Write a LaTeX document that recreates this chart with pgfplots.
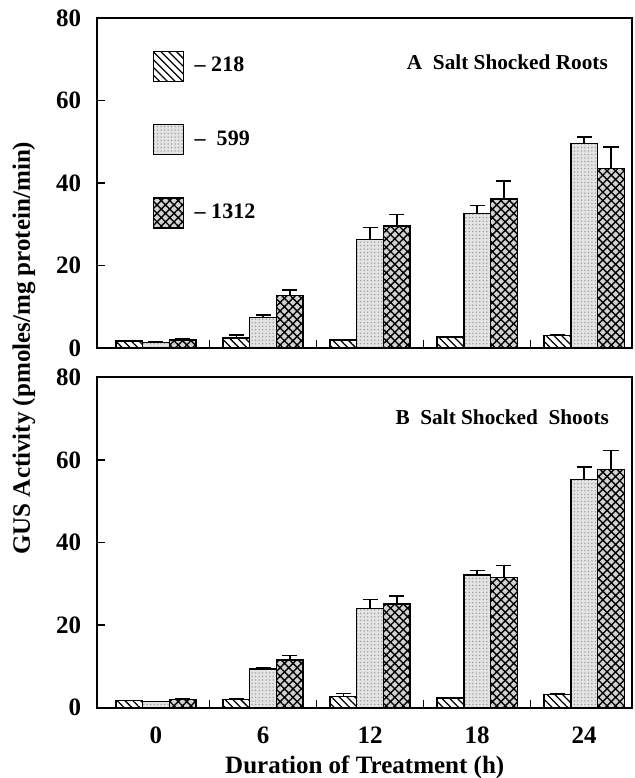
\documentclass[border=0pt]{standalone}
\usepackage{fontspec}
\setmainfont{Liberation Serif}
\usepackage{pgfplots}
\pgfplotsset{compat=1.18}
\usetikzlibrary{patterns,patterns.meta}

\pgfplotsset{
  gus/.style={
    scale only axis, width=214pt, height=132pt,
    ybar=0pt, bar width=0.25,
    xmin=-0.55, xmax=4.45, ymin=0, ymax=80,
    ytick={0,20,...,80},
    xtick={0,...,4},
    minor xtick={0.5,1.5,2.5,3.5},
    major x tick style={draw=none},
    major tick length=3.2pt, minor tick length=3.2pt,
    tick align=inside, tick pos=left,
    axis line style={line width=0.8pt},
    tick style={line width=0.6pt, black},
    font=\bfseries,
    tick label style={font=\bfseries},
    yticklabel style={xshift=-2.8pt},
    xticklabel style={yshift=-4pt},
    xlabel style={yshift=2pt},
    /pgf/number format/assume math mode=true,
    error bars/y dir=plus, error bars/y explicit,
    error bars/error mark options={rotate=90, mark size=3pt, line width=0.6pt},
    error bars/error bar style={line width=0.6pt},
    legend image code/.code={\draw[#1] (0pt,-6pt) rectangle (12pt,6pt);},
  },
  s218/.style={draw=black, line width=0.6pt, fill=white,
    postaction={pattern={Lines[angle=-45,distance=2.2pt,line width=0.5pt]}}},
  s599/.style={draw=black, line width=0.6pt, fill=gray!22,
    postaction={pattern={Dots[distance=1.4pt,radius=0.3pt]}, pattern color=gray!80}},
  s1312/.style={draw=black, line width=0.6pt, fill=gray!35,
    postaction={pattern={Hatch[angle=45,distance=2.4pt,line width=0.55pt]}}},
}

\begin{document}
\begin{tikzpicture}
% panel A
\begin{axis}[gus, name=A, xticklabels={},
  legend cell align=left,
  legend style={draw=none, fill=none, at={(0.089,0.918)}, anchor=north west,
    row sep=16.7pt, font=\fontsize{8.8}{9.5}\selectfont\bfseries},
]
\addplot[s218] coordinates {(0,1.7) +- (0,0.1) (1,2.5) +- (0,0.7) (2,2.0) +- (0,0.1) (3,2.7) +- (0,0.2) (4,3.1) +- (0,0.2)};
\addplot[s599] coordinates {(0,1.4) +- (0,0.1) (1,7.4) +- (0,0.7) (2,26.3) +- (0,2.9) (3,32.6) +- (0,2.0) (4,49.6) +- (0,1.6)};
\addplot[s1312] coordinates {(0,2.0) +- (0,0.2) (1,12.8) +- (0,1.3) (2,29.6) +- (0,2.8) (3,36.1) +- (0,4.4) (4,43.5) +- (0,5.3)};
\legend{\ -- 218, \ --\ \ 599, \ -- 1312}
\node[anchor=east, inner sep=0pt, font=\fontsize{8.5}{10}\selectfont\bfseries] at (rel axis cs:0.955,0.867) {A\ \ Salt Shocked Roots};
\end{axis}
% panel B
\begin{axis}[gus, name=B, at={(A.south west)}, anchor=north west, yshift=-11.7pt,
  xticklabels={0,6,12,18,24},
  xlabel={Duration of Treatment (h)},
]
\addplot[s218] coordinates {(0,1.7) +- (0,0.1) (1,2.0) +- (0,0.2) (2,2.7) +- (0,0.8) (3,2.3) +- (0,0.1) (4,3.2) +- (0,0.1)};
\addplot[s599] coordinates {(0,1.45) +- (0,0.1) (1,9.4) +- (0,0.4) (2,24.0) +- (0,2.2) (3,32.1) +- (0,1.2) (4,55.3) +- (0,3.0)};
\addplot[s1312] coordinates {(0,2.0) +- (0,0.2) (1,11.5) +- (0,1.1) (2,25.1) +- (0,2.0) (3,31.5) +- (0,3.0) (4,57.7) +- (0,4.6)};
\node[anchor=east, inner sep=0pt, font=\fontsize{8.5}{10}\selectfont\bfseries] at (rel axis cs:0.957,0.879) {B\ \ Salt Shocked\ \ Shoots};
\end{axis}
\node[rotate=90, font=\bfseries] at ([xshift=-29.2pt]A.south west) {GUS Activity (pmoles/mg protein/min)};
\pgfresetboundingbox
\useasboundingbox ([shift={(-38.8pt,7.2pt)}]A.north west) rectangle ([shift={(214.8pt,-28.1pt)}]B.south west);
\end{tikzpicture}
\end{document}
